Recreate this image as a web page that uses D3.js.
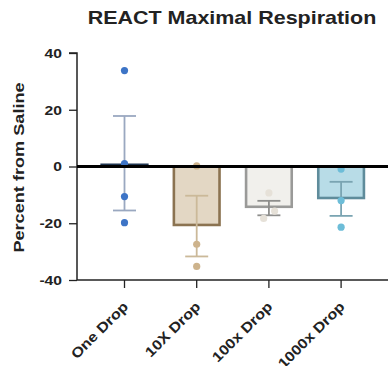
<!DOCTYPE html>
<html>
<head>
<meta charset="utf-8">
<script src="https://cdn.jsdelivr.net/npm/d3@7"></script>
<style>
	body { margin: 0; background: #fff; }
	text { font-family: "Liberation Sans", Arial, sans-serif; font-weight: bold; }
</style>
</head>
<body>
<div class="vis"></div>
<script>
const categories = ["One Drop", "10X Drop", "100x Drop", "1000x Drop"];
const means = [0.6, -20.6, -14.2, -11.1];
const errUp = [17.8, -10.3, -12.1, -5.4];
const errDown = [-15.5, -31.7, -17.2, -17.4];
const points = [
	[33.8, 1.0, -10.6, -19.8],
	[0.2, -27.4, -35.2],
	[-9.3, -18.3, -15.7],
	[-0.9, -12.0, -21.4]
];
const jitter = [
	[0, 0, 0, 0],
	[0, 0, 0],
	[0, -0.11, 0.12],
	[0, 0, 0]
];
const yTicks = [-40, -20, 0, 20, 40];

const fills = ["#ffffff", "#e3d7c4", "#f1f0ec", "#b8dce7"];
const strokes = ["#1f3550", "#8b7351", "#9a9a98", "#5f8c9b"];
const dotColors = ["#3d74c6", "#cdb38c", "#e6e1d8", "#6dbdd8"];
const errColors = ["#9aa8c0", "#cbb999", "#8e8e8c", "#7aa4b2"];

const width = 388;
const height = 366;
const stretch = 1.16;
const svg = d3.select(".vis").append("svg").attr("width", width).attr("height", height);

const x = d3.scaleBand().domain(categories).range([88.4, 377.2]).paddingInner(0.34).paddingOuter(0.17);
const y = d3.scaleLinear().domain([-40, 40]).range([280, 53]);

const widen = (sel, k) => sel.each(function () {
	d3.select(this)
		.attr("textLength", this.getComputedTextLength() * k)
		.attr("lengthAdjust", "spacingAndGlyphs");
});

svg.append("text")
	.attr("x", 232)
	.attr("y", 23.5)
	.attr("text-anchor", "middle")
	.attr("font-size", 18.5)
	.attr("fill", "#222")
	.text("REACT Maximal Respiration")
	.call(widen, stretch);

svg.append("text")
	.attr("transform", `translate(24, 167.5) rotate(-90)`)
	.attr("text-anchor", "middle")
	.attr("font-size", 14.5)
	.attr("fill", "#222")
	.text("Percent from Saline")
	.call(widen, 1.25);

const yAxis = svg.append("g")
	.attr("transform", "translate(77,0)")
	.call(d3.axisLeft(y).tickValues(yTicks).tickFormat((d) => String(d)).tickSize(8).tickPadding(7));
yAxis.select(".domain").attr("stroke", "#222").attr("stroke-width", 1.5).attr("d", `M-8,${y(40)}H0V${y(-40)}`);
yAxis.selectAll(".tick line").attr("stroke", "#222").attr("stroke-width", 1.3);
yAxis.selectAll(".tick text")
	.attr("font-size", 13.5)
	.attr("fill", "#222")
	.attr("font-family", "Liberation Sans, Arial")
	.attr("font-weight", "bold")
	.call(widen, stretch);

const xAxis = svg.append("g")
	.attr("transform", `translate(0,${y(-40)})`)
	.call(d3.axisBottom(x).tickSize(8).tickPadding(3));
xAxis.select(".domain").attr("stroke", "#222").attr("stroke-width", 1.5).attr("d", `M77,0H${width}`);
xAxis.selectAll(".tick line").attr("stroke", "#222").attr("stroke-width", 1.3);
xAxis.selectAll(".tick text")
	.attr("font-size", 14)
	.attr("fill", "#222")
	.attr("font-family", "Liberation Sans, Arial")
	.attr("font-weight", "bold")
	.attr("text-anchor", "end")
	.attr("y", 0)
	.attr("dy", "0.35em")
	.attr("transform", "translate(1,24) rotate(-45)")
	.call(widen, stretch);

const groups = svg.append("g").selectAll("g")
	.data(categories.map((c, i) => ({ c, i })))
	.join("g");

groups.append("rect")
	.attr("x", (d) => x(d.c) + 1)
	.attr("width", x.bandwidth() - 2)
	.attr("y", (d) => y(Math.max(0, means[d.i])))
	.attr("height", (d) => Math.max(1.5, Math.abs(y(means[d.i]) - y(0))))
	.attr("fill", (d) => fills[d.i])
	.attr("stroke", (d) => strokes[d.i])
	.attr("stroke-width", 2.6);

const cx = (d) => x(d.c) + x.bandwidth() / 2;

groups.append("line")
	.attr("x1", cx).attr("x2", cx)
	.attr("y1", (d) => y(errUp[d.i]))
	.attr("y2", (d) => y(errDown[d.i]))
	.attr("stroke", (d) => errColors[d.i])
	.attr("stroke-width", 1.8);

groups.selectAll(".cap")
	.data((d) => [errUp[d.i], errDown[d.i]].map((v) => ({ v, d })))
	.join("line")
	.attr("class", "cap")
	.attr("x1", (e) => cx(e.d) - 11.5)
	.attr("x2", (e) => cx(e.d) + 11.5)
	.attr("y1", (e) => y(e.v))
	.attr("y2", (e) => y(e.v))
	.attr("stroke", (e) => errColors[e.d.i])
	.attr("stroke-width", 1.8);

svg.append("line")
	.attr("x1", 77).attr("x2", width)
	.attr("y1", y(0)).attr("y2", y(0))
	.attr("stroke", "#000")
	.attr("stroke-width", 3);

groups.selectAll("circle")
	.data((d) => points[d.i].map((v, j) => ({ v, j, d })))
	.join("circle")
	.attr("cx", (p) => cx(p.d) + jitter[p.d.i][p.j] * x.bandwidth())
	.attr("cy", (p) => y(p.v))
	.attr("r", 3.6)
	.attr("fill", (p) => dotColors[p.d.i]);
</script>
</body>
</html>
